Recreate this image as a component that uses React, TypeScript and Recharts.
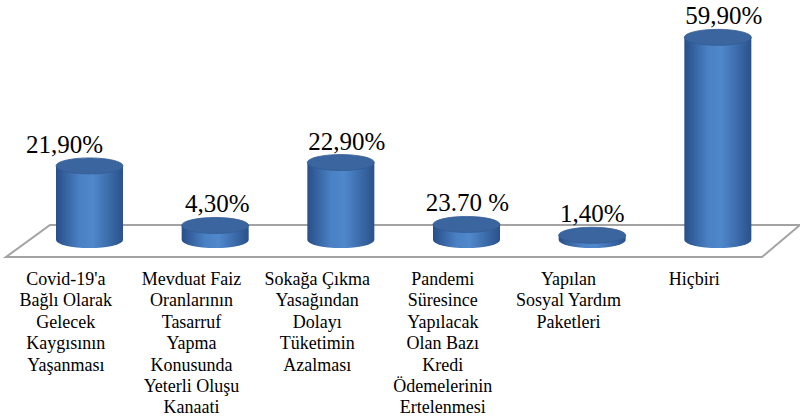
import { Bar, BarChart, LabelList, XAxis, YAxis, usePlotArea } from "recharts";

const categories = [
  "Covid-19'a\nBağlı Olarak\nGelecek\nKaygısının\nYaşanması",
  "Mevduat Faiz\nOranlarının\nTasarruf\nYapma\nKonusunda\nYeterli Oluşu\nKanaati",
  "Sokağa Çıkma\nYasağından\nDolayı\nTüketimin\nAzalması",
  "Pandemi\nSüresince\nYapılacak\nOlan Bazı\nKredi\nÖdemelerinin\nErtelenmesi",
  "Yapılan\nSosyal Yardım\nPaketleri",
  "Hiçbiri",
];
// bar heights as drawn in the picture
const values = [21.9, 4.3, 22.9, 4.6, 1.4, 59.9];
// printed value labels
const valueLabels = ["21,90%", "4,30%", "22,90%", "23.70 %", "1,40%", "59,90%"];

const data = categories.map((c, i) => ({
  name: c,
  value: values[i],
  label: valueLabels[i],
}));

const serif = "'Times New Roman', 'Liberation Serif', serif";
const RY = 8;

function Cylinder(props: any) {
  const { x, y, width, height, index } = props;
  const rx = width / 2;
  const cx = x + rx;
  const gid = `cyl-${index}`;
  const bottom = y + height;
  return (
    <g>
      <defs>
        <linearGradient id={gid} x1="0" y1="0" x2="1" y2="0">
          <stop offset="0%" stopColor="#284f88" />
          <stop offset="35%" stopColor="#4a80c4" />
          <stop offset="55%" stopColor="#5088cc" />
          <stop offset="100%" stopColor="#2a528c" />
        </linearGradient>
      </defs>
      <path
        d={`M${x},${y} L${x},${bottom} A${rx},${RY} 0 0 0 ${x + width},${bottom} L${x + width},${y} Z`}
        fill={`url(#${gid})`}
      />
      <ellipse cx={cx} cy={y} rx={rx} ry={RY} fill="#3b659f" stroke="#345c94" strokeWidth={0.8} />
    </g>
  );
}

function Floor() {
  const plot = usePlotArea();
  if (!plot) return null;
  const left = plot.x;
  const right = plot.x + plot.width;
  const base = plot.y + plot.height;
  const back = base - 15;
  const front = base + 17;
  const pts = `${left + 23},${back} ${right + 19},${back} ${right - 19},${front} ${left - 21},${front}`;
  return <polygon points={pts} fill="none" stroke="#a3a3a3" strokeWidth={2} />;
}

const labelShift = [-25, 2, 6, 1, 0, 6];

function ValueLabel(props: any) {
  const { x, y, width, value, index } = props;
  return (
    <text
      x={x + width / 2 + labelShift[index]}
      y={y - 13}
      textAnchor="middle"
      style={{ fontFamily: serif, fontSize: 25, fill: "#000" }}
    >
      {value}
    </text>
  );
}

function CategoryTick(props: any) {
  const { x, y, payload } = props;
  const lines = String(payload.value).split("\n");
  return (
    <text
      x={x - 24}
      y={y + 45}
      textAnchor="middle"
      style={{ fontFamily: serif, fontSize: 18, fill: "#000" }}
    >
      {lines.map((l, i) => (
        <tspan key={i} x={x - 24} dy={i === 0 ? 0 : 21.4}>
          {l}
        </tspan>
      ))}
    </text>
  );
}

export default function App() {
  return (
    <div style={{ position: "absolute", left: 0, top: 0, background: "#fff" }}>
      <BarChart
        width={800}
        height={418}
        data={data}
        margin={{ top: 37, right: 19, bottom: 0, left: 27 }}
        barCategoryGap={0}
      >
        <Floor />
        <XAxis
          dataKey="name"
          axisLine={false}
          tickLine={false}
          tickSize={0}
          tickMargin={0}
          height={178}
          interval={0}
          tick={<CategoryTick />}
        />
        <YAxis hide domain={[0, 60]} />
        <Bar
          dataKey="value"
          barSize={67}
          shape={<Cylinder />}
          isAnimationActive={false}
        >
          <LabelList dataKey="label" content={<ValueLabel />} />
        </Bar>
      </BarChart>
    </div>
  );
}
